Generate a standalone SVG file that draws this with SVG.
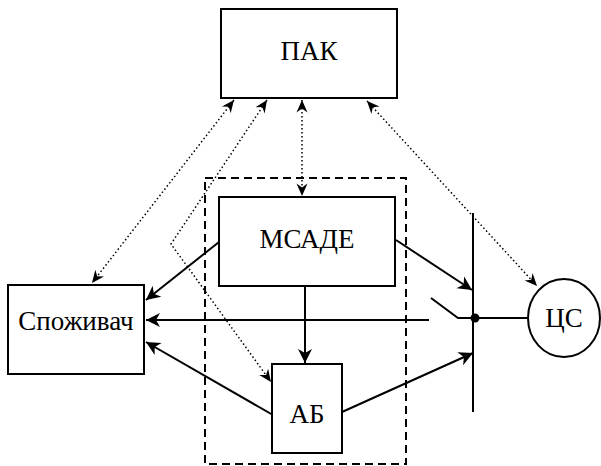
<svg xmlns="http://www.w3.org/2000/svg" width="601" height="466" viewBox="0 0 601 466">
<style>
.box{fill:#fff;stroke:#000;stroke-width:2}
.ln{fill:none;stroke:#000;stroke-width:2}
.dot{fill:none;stroke:#000;stroke-width:1.5;stroke-dasharray:1.5,2.5}
.dash{fill:none;stroke:#000;stroke-width:2;stroke-dasharray:8,5}
.t{font-family:'Liberation Serif','Times New Roman',serif;font-size:27px;text-anchor:middle;fill:#000}
</style>
<defs>
<marker id="ah" markerWidth="30" markerHeight="30" refX="15" refY="15" markerUnits="userSpaceOnUse" orient="auto-start-reverse" overflow="visible">
<path d="M15,15 L1,8 L5,15 L1,22 z" fill="#000"/>
</marker>
<marker id="ahs" markerWidth="30" markerHeight="30" refX="15" refY="15" markerUnits="userSpaceOnUse" orient="auto-start-reverse" overflow="visible">
<path d="M15,15 L2.5,9.5 L6.5,15 L2.5,20.5 z" fill="#000"/>
</marker>
</defs>
<rect class="dash" x="205" y="178" width="201" height="286"/>
<g id="connectors">
<line class="ln" x1="219" y1="242" x2="146" y2="300" marker-end="url(#ah)"/>
<line class="ln" x1="429" y1="320" x2="146" y2="320" marker-end="url(#ah)"/>
<line class="ln" x1="273" y1="415" x2="146" y2="342" marker-end="url(#ah)"/>
<line class="ln" x1="305" y1="286" x2="305" y2="363" marker-end="url(#ah)"/>
<line class="ln" x1="396" y1="240" x2="472" y2="290" marker-end="url(#ah)"/>
<line class="ln" x1="342" y1="412" x2="473" y2="353" marker-end="url(#ah)"/>
<line class="ln" x1="473" y1="213" x2="473" y2="412"/>
<polyline class="ln" points="431,298 458,318 475,318 527,318"/>
<circle cx="475" cy="318" r="4.5" fill="#000"/>
<line class="dot" x1="234" y1="100" x2="92" y2="283" marker-start="url(#ahs)" marker-end="url(#ahs)"/>
<polyline class="dot" points="267,100 171,244 271,382" marker-start="url(#ahs)" marker-end="url(#ahs)"/>
<line class="dot" x1="302" y1="100" x2="302" y2="196" marker-start="url(#ahs)" marker-end="url(#ahs)"/>
<line class="dot" x1="367" y1="101" x2="537" y2="286" marker-start="url(#ahs)" marker-end="url(#ahs)"/>
</g>
<g id="pak"><rect class="box" x="221" y="9" width="176" height="89"/><text class="t" x="309" y="60">ПАК</text></g>
<g id="msade"><rect class="box" x="219" y="197" width="176" height="89"/><text class="t" x="307" y="248">МСАДЕ</text></g>
<g id="spozhyvach"><rect class="box" x="8" y="285" width="136" height="89"/><text class="t" x="76" y="330">Споживач</text></g>
<g id="ab"><rect class="box" x="272" y="364" width="70" height="89"/><text class="t" x="307" y="423">АБ</text></g>
<g id="cs"><ellipse class="box" cx="564" cy="318" rx="36" ry="39"/><text class="t" x="564" y="327">ЦС</text></g>
</svg>
